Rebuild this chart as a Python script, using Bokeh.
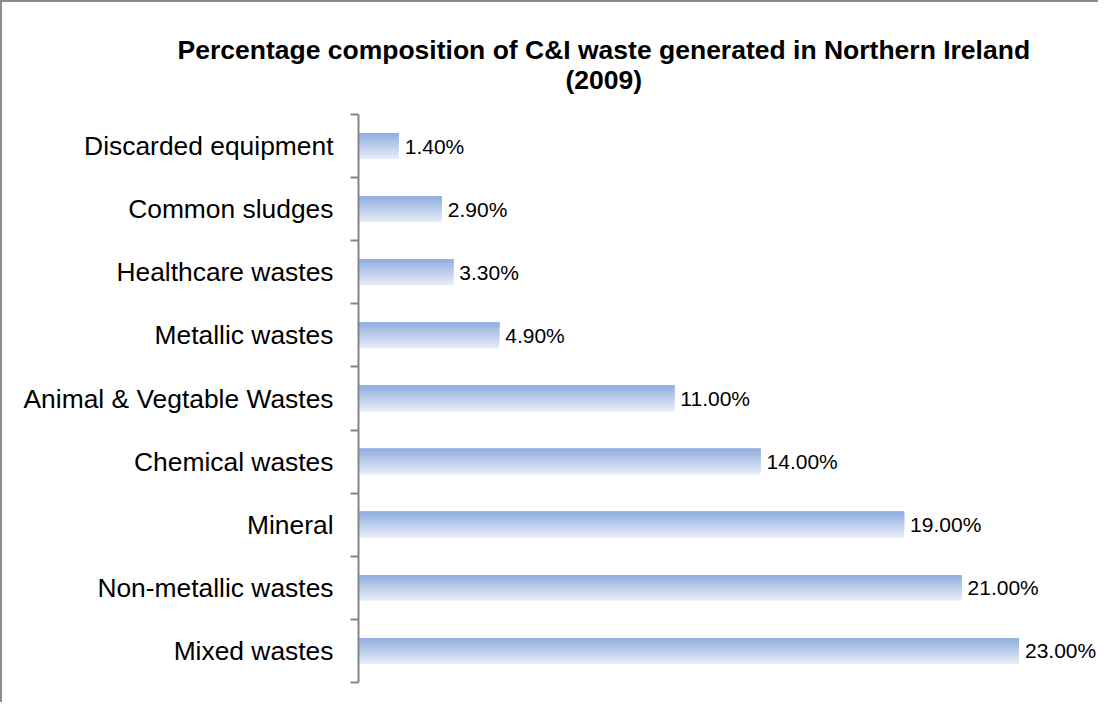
from bokeh.plotting import figure
from bokeh.models import Range1d, FixedTicker, Title
from bokeh.core.properties import value
from bokeh.embed import file_html
from bokeh.resources import INLINE

# ---- data ----
categories = [
    "Discarded equipment",
    "Common sludges",
    "Healthcare wastes",
    "Metallic wastes",
    "Animal & Vegtable Wastes",
    "Chemical wastes",
    "Mineral",
    "Non-metallic wastes",
    "Mixed wastes",
]
values = [1.4, 2.9, 3.3, 4.9, 11.0, 14.0, 19.0, 21.0, 23.0]
title_lines = ["Percentage composition of C&I waste generated in Northern Ireland", "(2009)"]

value_labels = [f"{v:.2f}%" for v in values]
n = len(categories)
ypos = [n - 1 - i + 0.5 for i in range(n)]  # first category at top

FONT = "Liberation Sans"
GRAY = "#868686"

p = figure(
    width=1098, height=702,
    x_range=Range1d(0, 25.77), y_range=Range1d(0, n),
    x_axis_location=None,
    output_backend="svg", toolbar_location=None,
    min_border_left=356, min_border_right=2,
    min_border_top=112, min_border_bottom=22,
)
p.styles = {"border-left": "2px solid #8c8c8c", "border-top": "2px solid #8c8c8c"}
p.outline_line_color = None
p.xgrid.visible = False
p.ygrid.visible = False
p.background_fill_color = "white"
p.border_fill_color = "white"

# ---- gradient bars (layered, top darker) ----
bar_h = 0.41
top_rgb = (0x93, 0xb0, 0xe1)
bot_rgb = (0xe6, 0xeb, 0xf7)
K = 14
tops = [y + bar_h / 2 for y in ypos]
for j in range(K):
    f = j / (K - 1)
    rgb = tuple(int(round(b + (t - b) * f)) for t, b in zip(top_rgb, bot_rgb))
    col = "#%02x%02x%02x" % rgb
    hj = bar_h * (1 - j / K)
    p.hbar(y=[t - hj / 2 for t in tops], height=hj, left=0, right=values,
           fill_color=col, line_color=None)

# ---- value labels ----
p.text(x=values, y=ypos, text=value_labels, x_offset=6,
       text_align="left", text_baseline="middle",
       text_font=value(FONT), text_font_size=value("21px"), text_color="black")

# ---- y axis: labels at centres, ticks at boundaries ----
yax = p.yaxis[0]
yax.ticker = FixedTicker(ticks=ypos, minor_ticks=list(range(n + 1)))
yax.major_label_overrides = {y: c for y, c in zip(ypos, categories)}
yax.major_tick_in = 0
yax.major_tick_out = 0
yax.minor_tick_in = 0
yax.minor_tick_out = 8
yax.minor_tick_line_color = GRAY
yax.minor_tick_line_width = 2
yax.axis_line_color = GRAY
yax.axis_line_width = 2
yax.major_label_standoff = 17
yax.major_label_text_font = FONT
yax.major_label_text_font_size = "26.4px"
yax.major_label_text_color = "black"

# ---- title (two lines; first added sits nearest the plot) ----
p.add_layout(Title(text=title_lines[1], align="left", offset=207,
                   text_font=FONT, text_font_style="bold", text_font_size="26.5px",
                   text_color="black", standoff=40), "above")
p.add_layout(Title(text=title_lines[0], align="left", offset=-181,
                   text_font=FONT, text_font_style="bold", text_font_size="26.5px",
                   text_color="black", standoff=-44), "above")

open("out.html", "w").write(file_html(p, INLINE))
